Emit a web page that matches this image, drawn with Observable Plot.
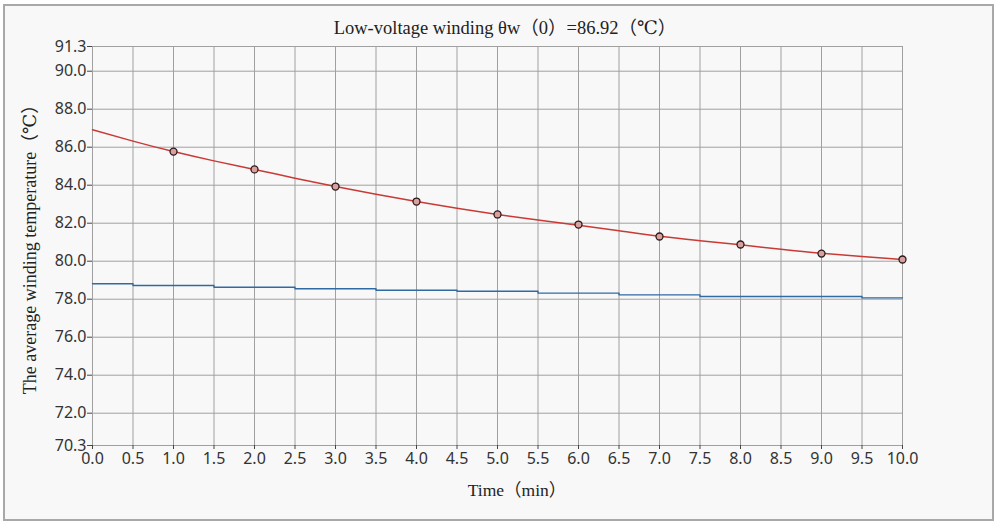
<!DOCTYPE html>
<html><head><meta charset="utf-8">
<script src="https://cdn.jsdelivr.net/npm/d3@7"></script>
<script src="https://cdn.jsdelivr.net/npm/@observablehq/plot@0.6"></script>
<style>
html,body{margin:0;padding:0;background:#fff;width:1000px;height:523px;overflow:hidden;}
#frame{position:absolute;left:3px;top:4px;width:987px;height:513px;border:2px solid #a8a8a8;background:#f8f8f8;}
#chart{position:absolute;left:0;top:0;}
#chart svg text{font-size:16px !important;}
.lbl{position:absolute;font-family:"Liberation Serif","DejaVu Serif","Noto Sans CJK SC",serif;font-size:17.5px;color:#222;white-space:nowrap;line-height:1;}
#title{left:505px;top:19px;transform:translateX(-50%);font-size:18.5px;}
#xlabel{left:517px;top:482px;transform:translateX(-50%);}
#ylabel{left:30px;top:245px;transform:translate(-50%,-50%) rotate(-90deg);font-size:18px;}
</style></head>
<body>
<div id="frame"></div>
<div id="chart"></div>
<div class="lbl" id="title">Low-voltage winding θw（0）=86.92（℃）</div>
<div class="lbl" id="xlabel">Time（min）</div>
<div class="lbl" id="ylabel">The average winding temperature（℃）</div>
<script>
const xTicks = [0,0.5,1,1.5,2,2.5,3,3.5,4,4.5,5,5.5,6,6.5,7,7.5,8,8.5,9,9.5,10];
const yTicks = [70.3,72,74,76,78,80,82,84,86,88,90,91.3];
// fitted curve (red)
const fitT = [0,0.5,1,1.5,2,2.5,3,3.5,4,4.5,5,5.5,6,6.5,7,7.5,8,8.5,9,9.5,10];
const fitV = [86.92,86.32,85.77,85.28,84.83,84.37,83.93,83.52,83.14,82.79,82.46,82.17,81.89,81.6,81.31,81.08,80.86,80.63,80.42,80.25,80.09];
// measured points
const ptT = [1,2,3,4,5,6,7,8,9,10];
const ptV = [85.77,84.83,83.93,83.14,82.46,81.93,81.3,80.88,80.4,80.09];
// blue step series
const bT = [0,1,2,3,4,5,6,7,8,9,10];
const bV = [78.81,78.72,78.63,78.55,78.47,78.42,78.32,78.23,78.14,78.14,78.07];

const fit = fitT.map((t,i)=>({t,v:fitV[i]}));
const pts = ptT.map((t,i)=>({t,v:ptV[i]}));
const blue = bT.map((t,i)=>({t,v:bV[i]}));

const plot = Plot.plot({
  width:1000, height:523,
  marginLeft:92, marginRight:98, marginTop:46, marginBottom:78,
  style:{background:"transparent", fontFamily:"'Noto Sans','Open Sans',sans-serif", fontSize:"16px", color:"#333"},
  x:{domain:[0,10]},
  y:{domain:[70.3,91.3]},
  marks:[
    Plot.ruleX(xTicks,{stroke:"#a0a0a0",strokeWidth:1}),
    Plot.ruleY(yTicks,{stroke:"#a0a0a0",strokeWidth:1}),
    Plot.axisX({ticks:xTicks, tickFormat:d=>d.toFixed(1), tickSize:4, tickPadding:3, label:null, fontSize:16, stroke:"#444"}),
    Plot.axisY({ticks:yTicks, tickFormat:d=>d.toFixed(1), tickSize:5, tickPadding:1, label:null, fontSize:16, stroke:"#444"}),
    Plot.line(blue,{x:"t",y:"v",curve:"step",stroke:"#2f6aa3",strokeWidth:1.4}),
    Plot.line(fit,{x:"t",y:"v",curve:"natural",stroke:"#c93a36",strokeWidth:1.5}),
    Plot.dot(pts,{x:"t",y:"v",r:3.5,stroke:"#2a1a1a",strokeWidth:1.3,fill:"#d9a0a0"})
  ]
});
document.getElementById("chart").appendChild(plot);
</script>
</body></html>
